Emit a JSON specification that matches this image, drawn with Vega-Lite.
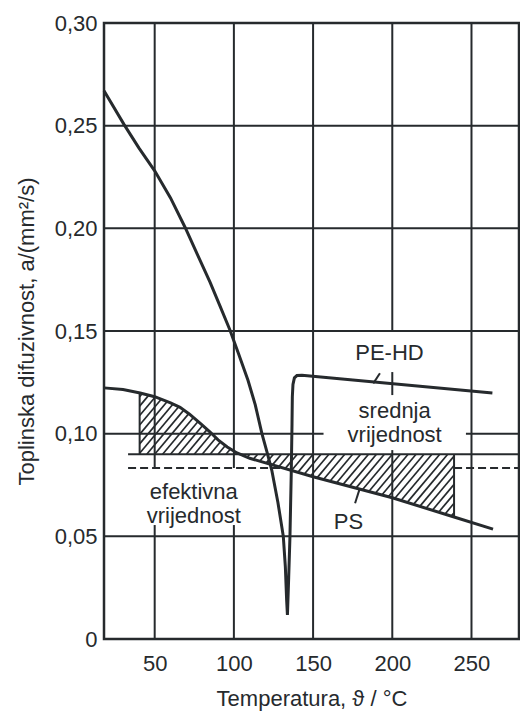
{
  "$schema": "https://vega.github.io/schema/vega-lite/v6.json",
  "width": 415,
  "height": 616,
  "autosize": {"type": "none"},
  "padding": {"left": 104, "top": 23, "right": 1, "bottom": 79},
  "background": "white",
  "datasets": {
    "grid": [
      {"x": 50, "x2": 50, "y": 0.0833, "y2": 0.30},
      {"x": 50, "x2": 50, "y": 0, "y2": 0.0555},
      {"x": 100, "x2": 100, "y": 0.0833, "y2": 0.30},
      {"x": 100, "x2": 100, "y": 0, "y2": 0.0555},
      {"x": 150, "x2": 150, "y": 0, "y2": 0.30},
      {"x": 200, "x2": 200, "y": 0.1495, "y2": 0.30},
      {"x": 200, "x2": 200, "y": 0.1188, "y2": 0.1300},
      {"x": 200, "x2": 200, "y": 0, "y2": 0.092},
      {"x": 250, "x2": 250, "y": 0, "y2": 0.30},
      {"x": 18, "x2": 280, "y": 0.05, "y2": 0.05},
      {"x": 18, "x2": 156.6, "y": 0.10, "y2": 0.10},
      {"x": 246.5, "x2": 280, "y": 0.10, "y2": 0.10},
      {"x": 18, "x2": 280, "y": 0.15, "y2": 0.15},
      {"x": 18, "x2": 280, "y": 0.20, "y2": 0.20},
      {"x": 18, "x2": 280, "y": 0.25, "y2": 0.25},
      {"x": 40.5, "x2": 40.5, "y": 0.090, "y2": 0.1199},
      {"x": 239, "x2": 239, "y": 0.0594, "y2": 0.090},
      {"x": 188.0, "x2": 192.2, "y": 0.1245, "y2": 0.1294},
      {"x": 176.5, "x2": 179.2, "y": 0.0661, "y2": 0.0726}
    ],
    "refs": [
      {"kind": "srednja", "x": 33.2, "x2": 280, "y": 0.090},
      {"kind": "efektivna", "x": 33.2, "x2": 131, "y": 0.0833},
      {"kind": "efektivna", "x": 239, "x2": 280, "y": 0.0833}
    ],
    "hatch": [
      {"x": 40.5, "y": 0.1180, "x2": 42.17, "y2": 0.1196},
      {"x": 40.5, "y": 0.11343, "x2": 46.28, "y2": 0.11875},
      {"x": 40.5, "y": 0.10884, "x2": 50.35, "y2": 0.11789},
      {"x": 40.5, "y": 0.10424, "x2": 54.12, "y2": 0.11676},
      {"x": 40.5, "y": 0.09965, "x2": 57.89, "y2": 0.11563},
      {"x": 40.5, "y": 0.09505, "x2": 61.62, "y2": 0.11446},
      {"x": 40.5, "y": 0.09046, "x2": 65.29, "y2": 0.11324},
      {"x": 45, "y": 0.09, "x2": 68.47, "y2": 0.11157},
      {"x": 50, "y": 0.09, "x2": 71.52, "y2": 0.10978},
      {"x": 55, "y": 0.09, "x2": 74.45, "y2": 0.10787},
      {"x": 60, "y": 0.09, "x2": 77.36, "y2": 0.10595},
      {"x": 65, "y": 0.09, "x2": 80.25, "y2": 0.10401},
      {"x": 70, "y": 0.09, "x2": 83.13, "y2": 0.10207},
      {"x": 75, "y": 0.09, "x2": 85.96, "y2": 0.10007},
      {"x": 80, "y": 0.09, "x2": 88.70, "y2": 0.09800},
      {"x": 85, "y": 0.09, "x2": 91.58, "y2": 0.09605},
      {"x": 90, "y": 0.09, "x2": 94.6, "y2": 0.09423},
      {"x": 95, "y": 0.09, "x2": 97.8, "y2": 0.09257},
      {"x": 100, "y": 0.09, "x2": 101.31, "y2": 0.0912},
      {"x": 104.69, "y": 0.08972, "x2": 105, "y2": 0.09},
      {"x": 108.59, "y": 0.0887, "x2": 110, "y2": 0.09},
      {"x": 112.27, "y": 0.08749, "x2": 115, "y2": 0.09},
      {"x": 116.28, "y": 0.08658, "x2": 120, "y2": 0.09},
      {"x": 120.30, "y": 0.08568, "x2": 125, "y2": 0.09},
      {"x": 124.32, "y": 0.08478, "x2": 130, "y2": 0.09},
      {"x": 128.33, "y": 0.08387, "x2": 135, "y2": 0.09},
      {"x": 132.35, "y": 0.08297, "x2": 140, "y2": 0.09},
      {"x": 136.37, "y": 0.08207, "x2": 145, "y2": 0.09},
      {"x": 140.38, "y": 0.08116, "x2": 150, "y2": 0.09},
      {"x": 144.40, "y": 0.08026, "x2": 155, "y2": 0.09},
      {"x": 148.42, "y": 0.07936, "x2": 160, "y2": 0.09},
      {"x": 152.48, "y": 0.07849, "x2": 165, "y2": 0.09},
      {"x": 156.57, "y": 0.07766, "x2": 170, "y2": 0.09},
      {"x": 160.66, "y": 0.07682, "x2": 175, "y2": 0.09},
      {"x": 164.75, "y": 0.07599, "x2": 180, "y2": 0.09},
      {"x": 168.85, "y": 0.07516, "x2": 185, "y2": 0.09},
      {"x": 172.94, "y": 0.07432, "x2": 190, "y2": 0.09},
      {"x": 177.03, "y": 0.07349, "x2": 195, "y2": 0.09},
      {"x": 181.12, "y": 0.07265, "x2": 200, "y2": 0.09},
      {"x": 185.21, "y": 0.07181, "x2": 205, "y2": 0.09},
      {"x": 189.30, "y": 0.07098, "x2": 210, "y2": 0.09},
      {"x": 193.40, "y": 0.07015, "x2": 215, "y2": 0.09},
      {"x": 197.49, "y": 0.06931, "x2": 220, "y2": 0.09},
      {"x": 201.53, "y": 0.06843, "x2": 225, "y2": 0.09},
      {"x": 205.49, "y": 0.06748, "x2": 230, "y2": 0.09},
      {"x": 209.45, "y": 0.06652, "x2": 235, "y2": 0.09},
      {"x": 213.41, "y": 0.06556, "x2": 239, "y2": 0.08908},
      {"x": 217.37, "y": 0.06461, "x2": 239, "y2": 0.08449},
      {"x": 221.33, "y": 0.06365, "x2": 239, "y2": 0.07989},
      {"x": 225.30, "y": 0.06271, "x2": 239, "y2": 0.07530},
      {"x": 229.26, "y": 0.06175, "x2": 239, "y2": 0.07070},
      {"x": 233.22, "y": 0.06079, "x2": 239, "y2": 0.06611},
      {"x": 237.18, "y": 0.05984, "x2": 239, "y2": 0.06151}
    ],
    "curves": [
      {"series": "PE-HD", "i": 1, "t": 18, "a": 0.2670},
      {"series": "PE-HD", "i": 2, "t": 30.7, "a": 0.2505},
      {"series": "PE-HD", "i": 3, "t": 40, "a": 0.2392},
      {"series": "PE-HD", "i": 4, "t": 50, "a": 0.2280},
      {"series": "PE-HD", "i": 5, "t": 60, "a": 0.2148},
      {"series": "PE-HD", "i": 6, "t": 69.3, "a": 0.2003},
      {"series": "PE-HD", "i": 7, "t": 77, "a": 0.1872},
      {"series": "PE-HD", "i": 8, "t": 85, "a": 0.1737},
      {"series": "PE-HD", "i": 9, "t": 91, "a": 0.1626},
      {"series": "PE-HD", "i": 10, "t": 97.5, "a": 0.1505},
      {"series": "PE-HD", "i": 11, "t": 103, "a": 0.1388},
      {"series": "PE-HD", "i": 12, "t": 108.9, "a": 0.1260},
      {"series": "PE-HD", "i": 13, "t": 113.5, "a": 0.1140},
      {"series": "PE-HD", "i": 14, "t": 117.7, "a": 0.1000},
      {"series": "PE-HD", "i": 15, "t": 121, "a": 0.0908},
      {"series": "PE-HD", "i": 16, "t": 123.9, "a": 0.0823},
      {"series": "PE-HD", "i": 17, "t": 127.8, "a": 0.0665},
      {"series": "PE-HD", "i": 18, "t": 131.2, "a": 0.0500},
      {"series": "PE-HD", "i": 19, "t": 132.5, "a": 0.0350},
      {"series": "PE-HD", "i": 20, "t": 133.3, "a": 0.0190},
      {"series": "PE-HD", "i": 21, "t": 133.8, "a": 0.0117},
      {"series": "PE-HD", "i": 22, "t": 134.6, "a": 0.0300},
      {"series": "PE-HD", "i": 23, "t": 135.4, "a": 0.0500},
      {"series": "PE-HD", "i": 24, "t": 136.2, "a": 0.0800},
      {"series": "PE-HD", "i": 25, "t": 136.7, "a": 0.1050},
      {"series": "PE-HD", "i": 26, "t": 136.9, "a": 0.1180},
      {"series": "PE-HD", "i": 27, "t": 137.3, "a": 0.1240},
      {"series": "PE-HD", "i": 28, "t": 138.2, "a": 0.1272},
      {"series": "PE-HD", "i": 29, "t": 139.8, "a": 0.1283},
      {"series": "PE-HD", "i": 30, "t": 143, "a": 0.1285},
      {"series": "PE-HD", "i": 31, "t": 263.2, "a": 0.1198},
      {"series": "PS", "i": 1, "t": 18, "a": 0.1223},
      {"series": "PS", "i": 2, "t": 30, "a": 0.1215},
      {"series": "PS", "i": 3, "t": 40.8, "a": 0.1198},
      {"series": "PS", "i": 4, "t": 50, "a": 0.1180},
      {"series": "PS", "i": 5, "t": 60, "a": 0.1150},
      {"series": "PS", "i": 6, "t": 66, "a": 0.1128},
      {"series": "PS", "i": 7, "t": 72, "a": 0.1095},
      {"series": "PS", "i": 8, "t": 78.8, "a": 0.1050},
      {"series": "PS", "i": 9, "t": 85, "a": 0.1008},
      {"series": "PS", "i": 10, "t": 90, "a": 0.0970},
      {"series": "PS", "i": 11, "t": 95.8, "a": 0.0935},
      {"series": "PS", "i": 12, "t": 102, "a": 0.0906},
      {"series": "PS", "i": 13, "t": 110, "a": 0.0880},
      {"series": "PS", "i": 14, "t": 150, "a": 0.0790},
      {"series": "PS", "i": 15, "t": 200, "a": 0.0688},
      {"series": "PS", "i": 16, "t": 239, "a": 0.0594},
      {"series": "PS", "i": 17, "t": 263.6, "a": 0.0535}
    ],
    "labels": [
      {"text": "PE-HD", "x": 198.2, "y": 0.1359},
      {"text": "srednja", "x": 201.5, "y": 0.1075},
      {"text": "vrijednost", "x": 201.5, "y": 0.0961},
      {"text": "efektivna", "x": 74.7, "y": 0.0680},
      {"text": "vrijednost", "x": 74.7, "y": 0.0563},
      {"text": "PS", "x": 172.3, "y": 0.0535}
    ]
  },
  "layer": [
    {
      "data": {"name": "grid"},
      "mark": {"type": "rule", "color": "#262a2d", "strokeWidth": 2},
      "encoding": {
        "x": {"field": "x", "type": "quantitative",
              "scale": {"domain": [18, 280], "nice": false, "zero": false},
              "axis": {"values": [50, 100, 150, 200, 250], "title": "Temperatura, ϑ / °C",
                       "labelPadding": 14, "titlePadding": 14}},
        "x2": {"field": "x2"},
        "y": {"field": "y", "type": "quantitative",
              "scale": {"domain": [0, 0.3], "nice": false},
              "axis": {"values": [0, 0.05, 0.1, 0.15, 0.2, 0.25, 0.3],
                       "labelExpr": "datum.value == 0 ? '0' : replace(format(datum.value, '.2f'), '.', ',')",
                       "title": "Toplinska difuzivnost, a/(mm²/s)",
                       "labelPadding": 7, "titlePadding": 16}},
        "y2": {"field": "y2"}
      }
    },
    {
      "data": {"name": "hatch"},
      "mark": {"type": "rule", "color": "#262a2d", "strokeWidth": 1.7},
      "encoding": {
        "x": {"field": "x", "type": "quantitative"},
        "x2": {"field": "x2"},
        "y": {"field": "y", "type": "quantitative"},
        "y2": {"field": "y2"}
      }
    },
    {
      "data": {"name": "refs"},
      "mark": {"type": "rule", "color": "#262a2d", "strokeWidth": 2},
      "encoding": {
        "x": {"field": "x", "type": "quantitative"},
        "x2": {"field": "x2"},
        "y": {"field": "y", "type": "quantitative"},
        "strokeDash": {"field": "kind", "type": "nominal",
                       "scale": {"domain": ["srednja", "efektivna"], "range": [[1, 0], [8, 4]]},
                       "legend": null}
      }
    },
    {
      "data": {"name": "curves"},
      "mark": {"type": "line", "color": "#262a2d", "strokeWidth": 3, "interpolate": "linear"},
      "encoding": {
        "x": {"field": "t", "type": "quantitative"},
        "y": {"field": "a", "type": "quantitative"},
        "detail": {"field": "series"},
        "order": {"field": "i", "type": "quantitative"}
      }
    },
    {
      "data": {"name": "labels"},
      "mark": {"type": "text", "align": "center", "baseline": "alphabetic", "fontSize": 22,
               "font": "Liberation Sans", "color": "#262a2d"},
      "encoding": {
        "x": {"field": "x", "type": "quantitative"},
        "y": {"field": "y", "type": "quantitative"},
        "text": {"field": "text"}
      }
    }
  ],
  "config": {
    "view": {"stroke": "#262a2d", "strokeWidth": 2.5},
    "axis": {
      "grid": false, "domain": false, "ticks": false, "tickSize": 0,
      "labelFont": "Liberation Sans", "labelFontSize": 22, "labelColor": "#262a2d",
      "titleFont": "Liberation Sans", "titleFontSize": 22, "titleFontWeight": "normal",
      "titleColor": "#262a2d"
    }
  }
}
